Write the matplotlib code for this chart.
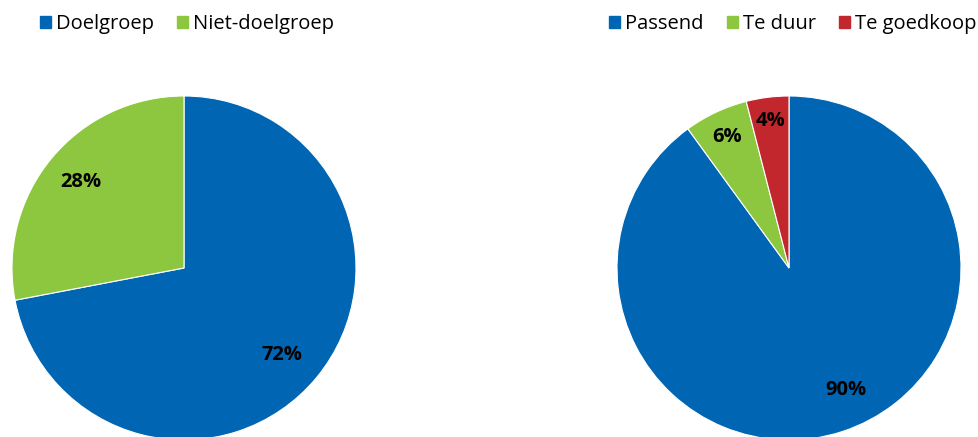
import matplotlib
matplotlib.use("Agg")
import matplotlib.pyplot as plt
import numpy as np
from matplotlib.patches import Patch

plt.rcParams['font.family'] = ['Open Sans', 'DejaVu Sans']

left_labels = ["Doelgroep", "Niet-doelgroep"]
left_values = [72, 28]
right_labels = ["Passend", "Te duur", "Te goedkoop"]
right_values = [90, 6, 4]

BLUE = "#0066b3"
GREEN = "#8dc63f"
RED = "#c1272d"
left_colors = [BLUE, GREEN]
right_colors = [BLUE, GREEN, RED]

W, H = 979, 437
fig = plt.figure(figsize=(W / 100, H / 100), dpi=100)

R = 172


def pie_axes(cx, cy):
    return fig.add_axes([(cx - R) / W, (H - cy - R) / H, 2 * R / W, 2 * R / H])


def draw(ax, values, colors, dists, shifts):
    wedges, _ = ax.pie(values, colors=colors, startangle=90, counterclock=False,
                       radius=1, wedgeprops=dict(linewidth=0.8, edgecolor="white"))
    for w, v, d, s in zip(wedges, values, dists, shifts):
        mid = np.deg2rad((w.theta1 + w.theta2) / 2 + s)
        ax.text(d * np.cos(mid), d * np.sin(mid), f"{v}%", ha="center", va="center",
                fontsize=14.5, fontweight="bold", color="black")
    ax.set_xlim(-1, 1)
    ax.set_ylim(-1, 1)
    ax.set_aspect("equal")
    ax.axis("off")
    return wedges


axl = pie_axes(184, 268)
draw(axl, left_values, left_colors, [0.76, 0.78], [-2, 0])
axr = pie_axes(789, 268)
draw(axr, right_values, right_colors, [0.78, 0.84, 0.86], [7, 0, 0])

common = dict(frameon=False, fontsize=14.5, handlelength=0.55, handleheight=0.55,
              handletextpad=0.25, columnspacing=1.15, borderaxespad=0, borderpad=0)
fig.legend([Patch(color=c) for c in left_colors], left_labels, loc="center left",
           bbox_to_anchor=(40 / W, 1 - 24 / H), ncol=2, **common)
fig.legend([Patch(color=c) for c in right_colors], right_labels, loc="center right",
           bbox_to_anchor=(977 / W, 1 - 24 / H), ncol=3, **common)

fig.savefig("out.png", dpi=100)
